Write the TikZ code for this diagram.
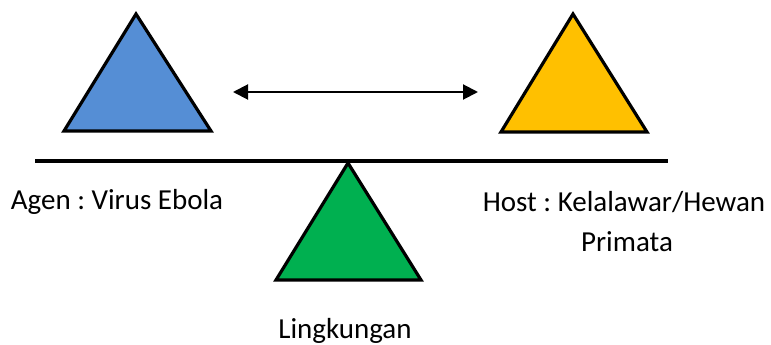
\documentclass[tikz,border=0pt]{standalone}
\usepackage{fontspec}
\setmainfont{Carlito}
\usetikzlibrary{arrows.meta,positioning}

\definecolor{agenblue}{HTML}{558ED5}
\definecolor{hostyellow}{HTML}{FFC000}
\definecolor{envgreen}{HTML}{00B050}
\frenchspacing

\begin{document}
\begin{tikzpicture}[
    x=1pt,y=-1pt,
    tri/.style={draw=black,line width=3.2pt,line join=miter},
    lbl/.style={font=\fontsize{29}{34}\selectfont,inner sep=0pt},
    >={Triangle[length=15pt,width=15pt]}
  ]
    \useasboundingbox (0,0) rectangle (771,345);
    % segitiga agen, host, lingkungan
    \filldraw[tri,fill=agenblue] (136,14) -- (211,131) -- (64,131) -- cycle;
    \filldraw[tri,fill=hostyellow] (573,14) -- (647,132) -- (501,132) -- cycle;
    % papan timbangan
    \coordinate (L) at (35,161);
    \coordinate (R) at (668,161);
    \draw[line width=4pt] (L) -- (R);
    \filldraw[tri,fill=envgreen] (348,163) -- (421,280) -- (276,280) -- cycle;
    \coordinate (A) at (233,92);
    \coordinate (H) at (478,92);
    \draw[<->,line width=2pt] (A) -- (H);
    \node[lbl] (agen) at (117,202) {Agen : Virus Ebola};
    \node[lbl] (host) at (624,202) {Host : Kelalawar/Hewan};
    \node[lbl] (primata) at (627,242) {Primata};
    \node[lbl] (lingk) at (345,331) {Lingkungan};
  \end{tikzpicture}
\end{document}
